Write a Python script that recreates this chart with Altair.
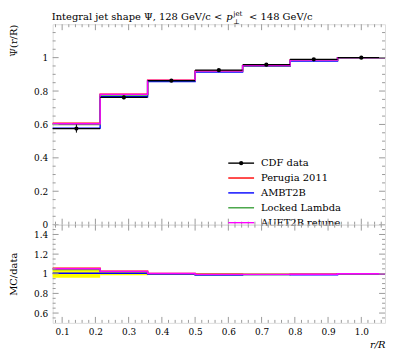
import altair as alt
import pandas as pd

# ---------------- data ----------------
edges = [0.0714, 0.2143, 0.3571, 0.5, 0.6429, 0.7857, 0.9286, 1.0714]
centers = [0.1429, 0.2857, 0.4286, 0.5714, 0.7143, 0.8571, 1.0]
cdf = [0.575, 0.762, 0.862, 0.925, 0.958, 0.990, 1.000]
cdf_err = [0.024, 0.011, 0.006, 0.004, 0.003, 0.002, 0.001]

series_names = ["Perugia 2011", "AMBT2B", "Locked Lambda", "AUET2B retune"]
perugia = [0.607, 0.781, 0.865, 0.922, 0.952, 0.986, 1.000]
ambt2b = [0.578, 0.766, 0.857, 0.913, 0.950, 0.980, 1.000]
locked = [0.600, 0.776, 0.862, 0.918, 0.951, 0.984, 1.000]
auet2b = [0.604, 0.780, 0.864, 0.919, 0.952, 0.985, 1.000]
series_values = [perugia, ambt2b, locked, auet2b]
series_colors = ["#ff0000", "#0000ff", "#3ca03c", "#ff00ff"]

up_major = [0, 0.2, 0.4, 0.6, 0.8, 1.0]
up_minor = [0.05, 0.1, 0.15, 0.25, 0.3, 0.35, 0.45, 0.5, 0.55, 0.65, 0.7, 0.75,
            0.85, 0.9, 0.95, 1.05, 1.1, 1.15]
lo_major = [0.6, 0.8, 1.0, 1.2, 1.4]
lo_minor = [0.55, 0.65, 0.7, 0.75, 0.85, 0.9, 0.95, 1.05, 1.1, 1.15, 1.25, 1.3,
            1.35, 1.45]
x_major = [0.1, 0.2, 0.3, 0.4, 0.5, 0.6, 0.7, 0.8, 0.9, 1.0]
x_minor = [0.08, 0.12, 0.14, 0.16, 0.18, 0.22, 0.24, 0.26, 0.28, 0.32, 0.34, 0.36,
           0.38, 0.42, 0.44, 0.46, 0.48, 0.52, 0.54, 0.56, 0.58, 0.62, 0.64, 0.66,
           0.68, 0.72, 0.74, 0.76, 0.78, 0.82, 0.84, 0.86, 0.88, 0.92, 0.94, 0.96,
           0.98, 1.02, 1.04, 1.06]

FONT = "DejaVu Serif"
FS = 10
W = 335
H_UP = 202
H_LO = 99
FRAME = "#9a9a9a"

# ---------------- tables ----------------
steps = []
ratio_steps = []
for name, vals in zip(series_names, series_values):
    for i, v in enumerate(vals):
        steps.append({"s": name, "x": edges[i], "y": v, "o": 2 * i})
        steps.append({"s": name, "x": edges[i + 1], "y": v, "o": 2 * i + 1})
        r = v / cdf[i]
        ratio_steps.append({"s": name, "x": edges[i], "y": r, "o": 2 * i})
        ratio_steps.append({"s": name, "x": edges[i + 1], "y": r, "o": 2 * i + 1})
steps = pd.DataFrame(steps)
ratio_steps = pd.DataFrame(ratio_steps)

dat = pd.DataFrame({
    "x": centers, "lo": edges[:-1], "hi": edges[1:], "y": cdf,
    "ylo": [c - e for c, e in zip(cdf, cdf_err)],
    "yhi": [c + e for c, e in zip(cdf, cdf_err)],
    "rlo": [1 - e / c for c, e in zip(cdf, cdf_err)],
    "rhi": [1 + e / c for c, e in zip(cdf, cdf_err)],
})

xscale = alt.Scale(domain=[edges[0], edges[-1]], nice=False, zero=False)
yscale_up = alt.Scale(domain=[0, 1.2], nice=False, zero=False)
yscale_lo = alt.Scale(domain=[0.5, 1.5], nice=False, zero=False)
cscale = alt.Scale(domain=series_names, range=series_colors)

common_axis = dict(ticks=False, domain=False, grid=False, titleFontWeight="normal",
                   titleFontSize=FS, titleFont=FONT, labelFont=FONT, labelFontSize=9,
                   labelColor="#000", titleColor="#000", labelOverlap=False,
                   labelFlush=False)

yaxis_up = alt.Axis(values=up_major,
                    labelExpr="datum.value == 0 || datum.value == 1 ? format(datum.value, 'd') : format(datum.value, '.1f')",
                    title="Ψ(r/R)", titleAnchor="end", labelPadding=5, titlePadding=15,
                    **common_axis)
xaxis_lo = alt.Axis(values=x_major, format=".1f", title="r/R", titleAnchor="end",
                    titleFontStyle="italic", labelPadding=5, titlePadding=3, **common_axis)
yaxis_lo = alt.Axis(values=lo_major,
                    labelExpr="datum.value == 1 ? '1' : format(datum.value, '.1f')",
                    title="MC/data", labelPadding=5, titlePadding=15, **common_axis)


def tick_layers(yvals_major, yvals_minor, yscale, yaxis, xaxis, H):
    layers = []
    for vals, ln in ((yvals_major, 6), (yvals_minor, 3)):
        d = pd.DataFrame({"v": vals})
        b = alt.Chart(d).mark_rule(color=FRAME, strokeWidth=1)
        layers.append(b.encode(y=alt.Y("v:Q", scale=yscale, axis=yaxis), x=alt.value(0), x2=alt.value(ln)))
        layers.append(b.encode(y=alt.Y("v:Q", scale=yscale, axis=yaxis), x=alt.value(W), x2=alt.value(W - ln)))
    for vals, ln in ((x_major, 6), (x_minor, 3)):
        d = pd.DataFrame({"v": vals})
        b = alt.Chart(d).mark_rule(color=FRAME, strokeWidth=1)
        layers.append(b.encode(x=alt.X("v:Q", scale=xscale, axis=xaxis), y=alt.value(H), y2=alt.value(H - ln)))
        layers.append(b.encode(x=alt.X("v:Q", scale=xscale, axis=xaxis), y=alt.value(0), y2=alt.value(ln)))
    return layers


# ---------------- upper panel ----------------
mc_up = alt.Chart(steps).mark_line(strokeWidth=1.4, interpolate="linear").encode(
    x=alt.X("x:Q", scale=xscale, axis=None),
    y=alt.Y("y:Q", scale=yscale_up, axis=yaxis_up),
    color=alt.Color("s:N", scale=cscale, legend=None),
    order="o:Q", detail="s:N",
)
d_xerr = alt.Chart(dat).mark_rule(color="black", strokeWidth=1.2).encode(
    x=alt.X("lo:Q", scale=xscale, axis=None), x2="hi:Q",
    y=alt.Y("y:Q", scale=yscale_up, axis=yaxis_up))
d_yerr = alt.Chart(dat).mark_rule(color="black", strokeWidth=1).encode(
    x=alt.X("x:Q", scale=xscale, axis=None),
    y=alt.Y("ylo:Q", scale=yscale_up, axis=yaxis_up), y2="yhi:Q")
d_pts = alt.Chart(dat).mark_circle(color="black", size=18, opacity=1).encode(
    x=alt.X("x:Q", scale=xscale, axis=None),
    y=alt.Y("y:Q", scale=yscale_up, axis=yaxis_up))

# legend
leg_layers = []
legend_names = ["CDF data"] + series_names
legend_colors = ["#000000"] + series_colors
one = pd.DataFrame({"a": [0]})
for i, (nm, col) in enumerate(zip(legend_names, legend_colors)):
    yy = 140 + 15 * i
    leg_layers.append(alt.Chart(one).mark_rule(color=col, strokeWidth=1.4).encode(
        x=alt.value(177), x2=alt.value(203), y=alt.value(yy)))
    leg_layers.append(alt.Chart(one).mark_text(text=nm, align="left", baseline="middle",
                                               font=FONT, fontSize=FS, color="black").encode(
        x=alt.value(210), y=alt.value(yy)))
leg_layers.append(alt.Chart(one).mark_circle(color="black", size=18, opacity=1).encode(
    x=alt.value(190), y=alt.value(140)))

# title pieces
title_layers = [
    alt.Chart(one).mark_text(text="Integral jet shape Ψ, 128 GeV/c <", align="right",
                             baseline="alphabetic", font=FONT, fontSize=FS, color="black").encode(
        x=alt.value(171), y=alt.value(-4)),
    alt.Chart(one).mark_text(text="p", align="left", baseline="alphabetic", font=FONT,
                             fontSize=FS, fontStyle="italic", color="black").encode(
        x=alt.value(175), y=alt.value(-4)),
    alt.Chart(one).mark_text(text="jet", align="left", baseline="alphabetic", font=FONT,
                             fontSize=7, color="black").encode(x=alt.value(182), y=alt.value(-8)),
    alt.Chart(one).mark_text(text="⊥", align="left", baseline="alphabetic", font=FONT,
                             fontSize=7, color="black").encode(x=alt.value(182), y=alt.value(0)),
    alt.Chart(one).mark_text(text="< 148 GeV/c", align="left", baseline="alphabetic",
                             font=FONT, fontSize=FS, color="black").encode(x=alt.value(198), y=alt.value(-4)),
]

upper = alt.layer(
    mc_up, d_xerr, d_yerr, d_pts,
    *tick_layers(up_major, up_minor, yscale_up, yaxis_up, None, H_UP),
    *leg_layers, *title_layers,
).properties(width=W, height=H_UP)

# ---------------- lower panel ----------------
band = alt.Chart(dat).mark_rect(color="#ffff00", opacity=1).encode(
    x=alt.X("lo:Q", scale=xscale, axis=xaxis_lo), x2="hi:Q",
    y=alt.Y("rlo:Q", scale=yscale_lo, axis=yaxis_lo), y2="rhi:Q")
mc_lo = alt.Chart(ratio_steps).mark_line(strokeWidth=1.4, interpolate="linear").encode(
    x=alt.X("x:Q", scale=xscale, axis=xaxis_lo),
    y=alt.Y("y:Q", scale=yscale_lo, axis=yaxis_lo),
    color=alt.Color("s:N", scale=cscale, legend=None),
    order="o:Q", detail="s:N",
)

lower = alt.layer(
    band, mc_lo,
    *tick_layers(lo_major, lo_minor, yscale_lo, yaxis_lo, xaxis_lo, H_LO),
).properties(width=W, height=H_LO)

chart = alt.vconcat(upper, lower, spacing=0, bounds="flush").properties(
    padding={"left": 0, "top": 0, "right": 0, "bottom": 0}
).configure_view(stroke=FRAME, strokeWidth=1).configure(font=FONT)

chart.save("out.html", embed_options={"renderer": "svg", "actions": False})
